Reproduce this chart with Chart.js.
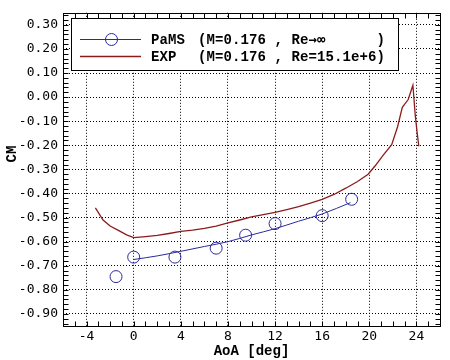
<!DOCTYPE html>
<html><head><meta charset="utf-8">
<script src="https://cdn.jsdelivr.net/npm/chart.js@4"></script>
<style>html,body{margin:0;padding:0;background:#fff}#wrap{width:450px;height:360px}</style>
</head><body><div id="wrap"><canvas id="c" width="450" height="360"></canvas></div>
<script>
// ---- data ----
const xTicks = [-4, 0, 4, 8, 12, 16, 20, 24];
const yTicks = [0.30, 0.20, 0.10, 0.00, -0.10, -0.20, -0.30, -0.40, -0.50, -0.60, -0.70, -0.80, -0.90];
const pamsAoA = [-1.5, 0, 3.5, 7, 9.5, 12, 16, 18.5];
const pamsCM  = [-0.745, -0.664, -0.664, -0.627, -0.573, -0.525, -0.492, -0.424];
const pamsCurveAoA = [0, 2, 4, 6, 8, 10, 12, 14, 16, 18.4];
const pamsCurveCM  = [-0.674, -0.659, -0.640, -0.620, -0.600, -0.572, -0.546, -0.515, -0.485, -0.438];
const expAoA = [-3.25, -2.6, -2, -1.3, -0.6, 0, 1, 2, 3, 4, 5, 6, 7, 8, 9, 10, 11, 12, 13, 14, 15, 16, 17, 18, 19, 19.9, 20.5, 21.2, 21.9, 22.4, 22.8, 23.3, 23.7, 23.9, 24.05, 24.2];
const expCM  = [-0.460, -0.510, -0.535, -0.553, -0.572, -0.583, -0.579, -0.574, -0.566, -0.557, -0.552, -0.545, -0.535, -0.522, -0.510, -0.497, -0.488, -0.478, -0.467, -0.455, -0.440, -0.424, -0.404, -0.378, -0.350, -0.320, -0.285, -0.240, -0.197, -0.123, -0.042, -0.010, 0.049, -0.076, -0.143, -0.204];
const legendLabels = ['PaMS', 'EXP'];
const legendParams = ['(M=0.176 , Re\u2192\u221e      )', '(M=0.176 , Re=15.1e+6)'];
const yTitle = 'CM';
const xTitle = 'AoA [deg]';

const BLUE = '#2a2a9c';
const RED = '#8c1c1c';
const toXY = (xs, ys) => xs.map((x, i) => ({x, y: ys[i]}));

function drawMono(c, str, x0, y, cw) {
  for (let i = 0; i < str.length; i++) {
    const ch = str[i];
    if (ch === ' ') continue;
    c.font = ch.charCodeAt(0) > 127 ? 'bold 14px "DejaVu Sans Mono", monospace' : 'bold 14px "Liberation Mono", monospace';
    c.fillText(ch, x0 + i * cw, y);
  }
}

const framePlugin = {
  id: 'frame',
  afterDatasetsDraw(chart) {
    const c = chart.ctx;
    c.save();
    // legend box
    c.fillStyle = '#fff';
    c.fillRect(71.5, 18.5, 327, 52);
    c.strokeStyle = '#000'; c.lineWidth = 1;
    c.strokeRect(71.5, 18.5, 327, 52);
    // PaMS entry
    c.strokeStyle = BLUE; c.lineWidth = 1;
    c.beginPath(); c.moveTo(80, 39.5); c.lineTo(141, 39.5); c.stroke();
    c.beginPath(); c.arc(111.5, 39.5, 6, 0, Math.PI * 2); c.stroke();
    // EXP entry
    c.strokeStyle = RED; c.lineWidth = 1.3;
    c.beginPath(); c.moveTo(80, 56.5); c.lineTo(141, 56.5); c.stroke();
    c.fillStyle = '#000';
    c.textBaseline = 'middle';
    c.textAlign = 'left';
    drawMono(c, legendLabels[0], 151, 40, 8.5);
    drawMono(c, legendParams[0], 198, 40, 8.5);
    drawMono(c, legendLabels[1], 151, 57, 8.5);
    drawMono(c, legendParams[1], 198, 57, 8.5);
    c.restore();
  },
  afterDraw(chart) {
    const c = chart.ctx, a = chart.chartArea;
    const xs = chart.scales.x, ys = chart.scales.y;
    const L = Math.round(a.left) + 0.5, R = Math.round(a.right) + 0.5;
    const T = Math.round(a.top) + 0.5, B = Math.round(a.bottom) + 0.5;
    c.save();
    c.strokeStyle = '#000'; c.lineWidth = 1;
    c.strokeRect(L, T, R - L, B - T);
    const tl = 5;
    c.beginPath();
    for (let v = -6; v <= 26; v += 1) {
      const px = Math.round(xs.getPixelForValue(v)) + 0.5;
      c.moveTo(px, T); c.lineTo(px, T + tl);
      c.moveTo(px, B); c.lineTo(px, B - tl);
    }
    for (let k = -47; k <= 17; k++) {
      const v = k * 0.02;
      const py = Math.round(ys.getPixelForValue(v)) + 0.5;
      c.moveTo(L, py); c.lineTo(L + tl, py);
      c.moveTo(R, py); c.lineTo(R - tl, py);
    }
    c.stroke();
    // y axis title
    c.translate(12, 154);
    c.rotate(-Math.PI / 2);
    c.fillStyle = '#000';
    c.font = 'bold 14px "Liberation Mono", monospace';
    c.textAlign = 'center'; c.textBaseline = 'middle';
    c.fillText(yTitle, 0, 0);
    c.restore();
  }
};

new Chart(document.getElementById('c'), {
  type: 'scatter',
  data: {
    datasets: [
      {label: 'PaMS curve', data: toXY(pamsCurveAoA, pamsCurveCM), showLine: true, borderColor: BLUE, borderWidth: 1, pointRadius: 0, cubicInterpolationMode: 'monotone', fill: false},
      {label: 'PaMS', data: toXY(pamsAoA, pamsCM), showLine: false, pointStyle: 'circle', pointRadius: 6, borderColor: BLUE, backgroundColor: 'rgba(0,0,0,0)', borderWidth: 1},
      {label: 'EXP', data: toXY(expAoA, expCM), showLine: true, borderColor: RED, borderWidth: 1.3, pointRadius: 0, tension: 0, fill: false}
    ]
  },
  options: {
    responsive: false, animation: false, events: [],
    layout: {padding: {top: 4, right: 10, left: 0, bottom: 0}},
    plugins: {legend: {display: false}, tooltip: {enabled: false}},
    scales: {
      x: {
        type: 'linear', min: -6, max: 26,
        afterBuildTicks: s => { s.ticks = xTicks.map(v => ({value: v})); },
        afterFit: s => { s.height = 34; },
        grid: {color: '#000', lineWidth: 1, drawTicks: false},
        border: {display: false, dash: [1, 2]},
        ticks: {font: {family: '"DejaVu Sans Mono", monospace', size: 13}, color: '#000', padding: 3, maxRotation: 0, autoSkip: false},
        title: {display: true, text: xTitle, font: {family: '"Liberation Mono", monospace', size: 14, weight: 'bold'}, color: '#000', padding: 0}
      },
      y: {
        type: 'linear', min: -0.95, max: 0.35,
        afterBuildTicks: s => { s.ticks = yTicks.map(v => ({value: v})); },
        afterFit: s => { s.width = 63; },
        grid: {color: '#000', lineWidth: 1, drawTicks: false},
        border: {display: false, dash: [1, 2]},
        ticks: {font: {family: '"DejaVu Sans Mono", monospace', size: 13}, color: '#000', padding: 5, autoSkip: false, callback: v => Number(v).toFixed(2)},
        title: {display: false}
      }
    }
  },
  plugins: [framePlugin]
});
</script>
</body></html>
